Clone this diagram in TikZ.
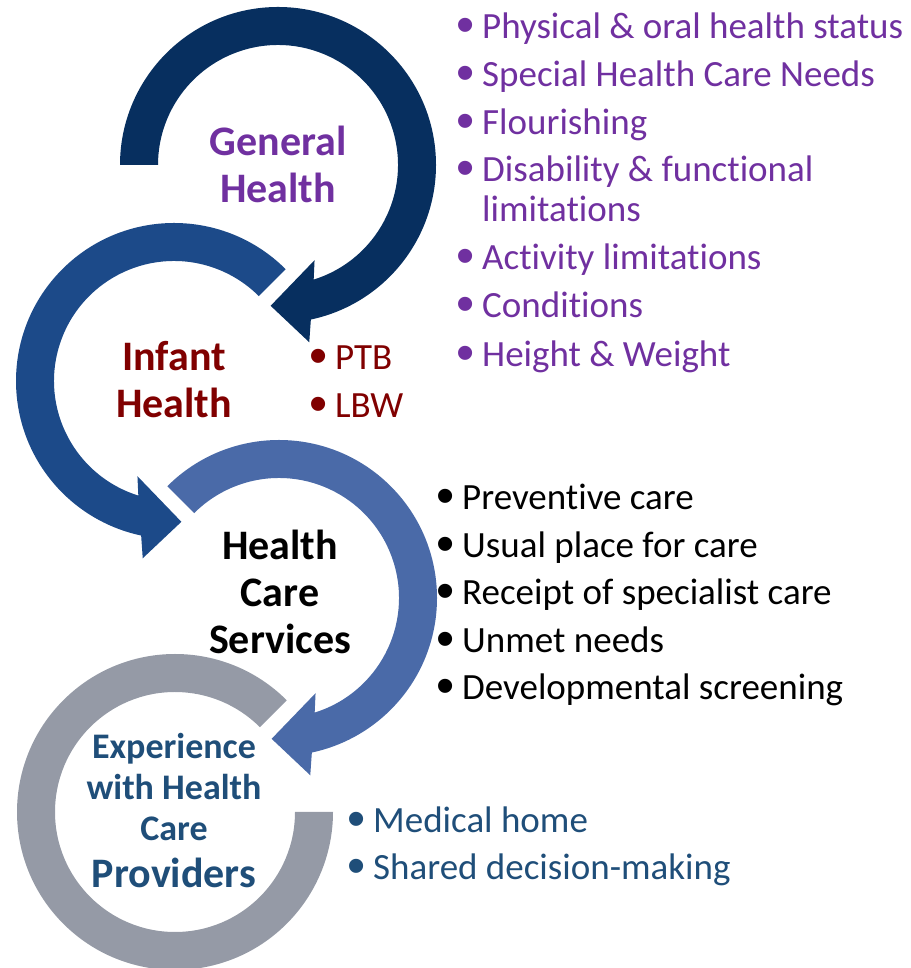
\documentclass[tikz,border=0pt]{standalone}
\usepackage{fontspec}
\setmainfont{Carlito}[Ligatures={NoCommon}]
\newfontfamily\bulfont{Liberation Sans}
\definecolor{cone}{HTML}{072F5F}
\definecolor{ctwo}{HTML}{1C4A89}
\definecolor{cthree}{HTML}{4A6AA8}
\definecolor{cfour}{HTML}{959AA6}
\definecolor{gpurple}{HTML}{7030A0}
\definecolor{ired}{HTML}{800000}
\definecolor{eblue}{HTML}{1F4E79}
\begin{document}
\begin{tikzpicture}[x=1pt,y=1pt,
  title/.style={font=\bfseries\fontsize{42}{47}\selectfont, align=center, inner sep=0pt},
  item/.style={anchor=base west, inner sep=0pt, font=\fontsize{37}{44}\selectfont},
]
\newcommand{\bu}{\llap{\raisebox{-4pt}{\scalebox{1.4}{\bulfont •}}\hspace{8pt}}}
\useasboundingbox (0,0) rectangle (910,968);
\coordinate (C1) at (278,803);
\coordinate (C2) at (174,587);
\coordinate (C3) at (279,370);
\coordinate (C4) at (175,156);

% ring 1
\begin{scope}[shift={(C1)}]
\fill[cone] (180:158) arc[start angle=180,end angle=-78,radius=158] -- (-80:180) -- (-93:141) -- (-69:102) -- (-72.7:120) arc[start angle=-72.7,end angle=180,radius=120] -- cycle;
\end{scope}
% ring 2
\begin{scope}[shift={(C2)}]
\fill[ctwo] (45:158) arc[start angle=45,end angle=258,radius=158] -- (260:180) -- (273:141) -- (249:102) -- (252.7:120) arc[start angle=252.7,end angle=45,radius=120] -- cycle;
\end{scope}
% ring 3
\begin{scope}[shift={(C3)}]
\fill[cthree] (135:158) arc[start angle=135,end angle=-78,radius=158] -- (-80:180) -- (-93:141) -- (-69:102) -- (-72.7:120) arc[start angle=-72.7,end angle=135,radius=120] -- cycle;
\end{scope}
% ring 4
\begin{scope}[shift={(C4)}]
\fill[cfour] (45:158) arc[start angle=45,end angle=360,radius=158] -- (0:120) arc[start angle=360,end angle=45,radius=120] -- cycle;
\end{scope}

% titles
\node[title, text=gpurple] (gh) at (278,804) {General\\Health};
\node[title, text=ired] (ih) at (174,588) {Infant\\Health};
\node[title, text=black, fill=white, inner sep=1pt] (hcs) at (280,376) {Health\\Care\\Services};
\node[title, text=eblue, font=\bfseries\fontsize{36}{41}\selectfont] (exp) at (174,157) {Experience\\with Health\\Care\\[6pt]{\fontsize{42}{47}\selectfont Providers}};

% general health list
\node[item, text=gpurple] (g1) at (482,929) {\bu Physical \& oral health status};
\node[item, text=gpurple] (g2) at (482,881) {\bu Special Health Care Needs};
\node[item, text=gpurple] (g3) at (482,833) {\bu Flourishing};
\node[item, text=gpurple] (g4) at (482,786) {\bu Disability \& functional};
\node[item, text=gpurple] (g4b) at (482,746) {limitations};
\node[item, text=gpurple] (g5) at (482,698) {\bu Activity limitations};
\node[item, text=gpurple] (g6) at (482,650) {\bu Conditions};
\node[item, text=gpurple] (g7) at (482,601) {\bu Height \& Weight};

% infant list
\node[item, text=ired] (i1) at (335,598) {\bu PTB};
\node[item, text=ired] (i2) at (335,550) {\bu LBW};

% services list
\node[item, text=black] (s1) at (462,458) {\bu Preventive care};
\node[item, text=black] (s2) at (462,410) {\bu Usual place for care};
\node[item, text=black] (s3) at (462,363) {\bu Receipt of specialist care};
\node[item, text=black] (s4) at (462,315) {\bu Unmet needs};
\node[item, text=black] (s5) at (462,268) {\bu Developmental screening};

% experience list
\node[item, text=eblue] (e1) at (373,135) {\bu Medical home};
\node[item, text=eblue] (e2) at (373,88) {\bu Shared decision-making};
\end{tikzpicture}
\end{document}
